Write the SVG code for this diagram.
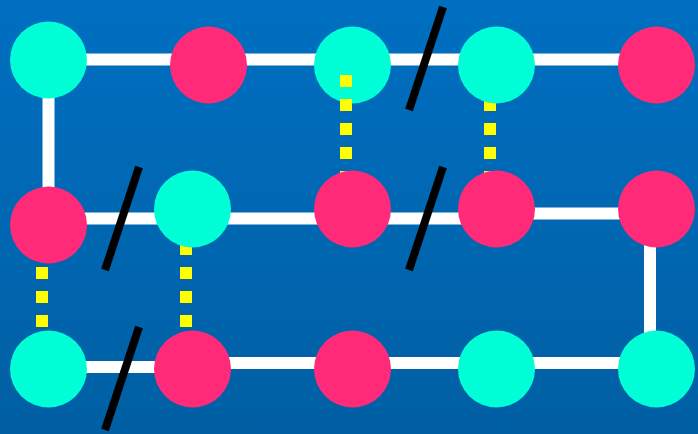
<svg xmlns="http://www.w3.org/2000/svg" width="698" height="434" viewBox="0 0 698 434">
<defs>
<linearGradient id="bg" x1="0" y1="0" x2="0" y2="1">
<stop offset="0" stop-color="#006fc1"/>
<stop offset="1" stop-color="#005fa3"/>
</linearGradient>
<style>
.w{stroke:#fff;stroke-width:12;fill:none}
.y{stroke:#ffff00;stroke-width:12;stroke-dasharray:12 12;fill:none}
.k{stroke:#000;stroke-width:8;fill:none}
.c{fill:#00ffd6}
.p{fill:#ff2b79}
</style>
</defs>
<rect width="698" height="434" fill="url(#bg)"/>
<g id="connectors">
<line class="w" x1="48.5" y1="59.5" x2="656.5" y2="59.5"/>
<line class="w" x1="48.5" y1="60" x2="48.5" y2="225"/>
<line class="w" x1="48.5" y1="218.5" x2="496.5" y2="218.5"/>
<line class="w" x1="496.5" y1="213.5" x2="656.5" y2="213.5"/>
<line class="w" x1="650" y1="209" x2="650" y2="369"/>
<line class="w" x1="48.5" y1="367" x2="192.5" y2="367"/>
<line class="w" x1="192.5" y1="363" x2="656.5" y2="363"/>
<line class="y" x1="42" y1="243" x2="42" y2="345"/>
<line class="y" x1="186" y1="243" x2="186" y2="345"/>
<line class="y" x1="490" y1="75" x2="490" y2="195"/>
</g>
<g id="n1"><circle class="c" cx="48.5" cy="60" r="38.5"/></g>
<g id="n2"><circle class="p" cx="208.5" cy="65" r="38.5"/></g>
<g id="n3"><circle class="c" cx="352.5" cy="65" r="38.5"/></g>
<g id="n4"><circle class="c" cx="496.5" cy="65" r="38.5"/></g>
<g id="n5"><circle class="p" cx="656.5" cy="65" r="38.5"/></g>
<g id="connectors-top"><line class="y" x1="346" y1="75" x2="346" y2="195"/></g>
<g id="n6"><circle class="p" cx="48.5" cy="225" r="38.5"/></g>
<g id="n7"><circle class="c" cx="192.5" cy="209" r="38.5"/></g>
<g id="n8"><circle class="p" cx="352.5" cy="209" r="38.5"/></g>
<g id="n9"><circle class="p" cx="496.5" cy="209" r="38.5"/></g>
<g id="n10"><circle class="p" cx="656.5" cy="209" r="38.5"/></g>
<g id="n11"><circle class="c" cx="48.5" cy="369" r="38.5"/></g>
<g id="n12"><circle class="p" cx="192.5" cy="369" r="38.5"/></g>
<g id="n13"><circle class="p" cx="352.5" cy="369" r="38.5"/></g>
<g id="n14"><circle class="c" cx="496.5" cy="369" r="38.5"/></g>
<g id="n15"><circle class="c" cx="656.5" cy="369" r="38.5"/></g>
<g id="breaks">
<line class="k" x1="139" y1="167" x2="105" y2="270"/>
<line class="k" x1="139" y1="327" x2="105" y2="430"/>
<line class="k" x1="443" y1="7" x2="409" y2="110"/>
<line class="k" x1="443" y1="167" x2="409" y2="270"/>
</g>
</svg>
